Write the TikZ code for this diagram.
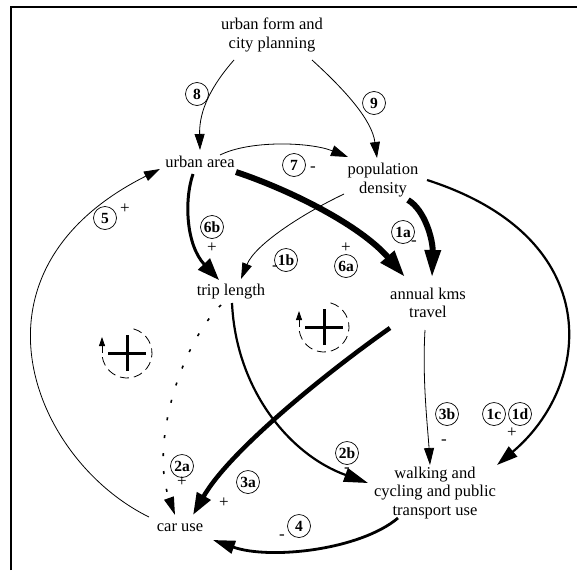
\documentclass[tikz,border=0pt]{standalone}
\usepackage{fontspec}
\setmainfont{Liberation Serif}
\usetikzlibrary{arrows.meta}
\begin{document}
\begin{tikzpicture}[x=1pt,y=-1pt,
  txt/.style={align=center,font=\fontsize{16.5}{18.5}\selectfont,inner sep=2pt},
  num/.style={circle,draw,line width=0.7pt,inner sep=0pt,minimum size=23pt,font=\fontsize{15.5}{15.5}\selectfont\bfseries},
  sgn/.style={inner sep=0pt,font=\fontsize{17}{17}\selectfont},
  head/.style 2 args={-{Triangle[length=#1,width=#2]}},
  thinlink/.style={line width=0.8pt},
  midlink/.style={line width=2.2pt},
  heavylink/.style={line width=4.5pt},
  boldlink/.style={line width=6pt},
  dotlink/.style={line width=1.6pt,dash pattern=on 3pt off 15pt},
  loopdash/.style={line width=0.8pt,dash pattern=on 9pt off 5pt},
  crossbar/.style={line width=3pt},
]
\useasboundingbox (0,0) rectangle (577,570);
\draw[line width=2.5pt] (11,570) -- (11,7) -- (577,7);

% nodes
\node[txt] (uf) at (272,35) {urban form and\\city planning};
\node[txt] (ua) at (200,162) {urban area};
\node[txt] (pd) at (383,180) {population\\density};
\node[txt] (tl) at (231,292) {trip length};
\node[txt] (ak) at (428,303) {annual kms\\travel};
\node[txt] (cu) at (180,528) {car use};
\node[txt] (wc) at (435,493) {walking and\\cycling and public\\transport use};

% connectors
\draw[thinlink,head={16pt}{10pt}] ([shift={(-38,25)}]uf.center) .. controls (212,85) and (199,110) .. ([shift={(0,-12)}]ua.center);
\draw[thinlink,head={16pt}{10pt}] ([shift={(40,25)}]uf.center) .. controls (345,90) and (372,120) .. ([shift={(-6,-22)}]pd.center);
\draw[thinlink,head={17pt}{11pt}] ([shift={(20,-7)}]ua.center) .. controls (250,140) and (310,142) .. ([shift={(-35,-23)}]pd.center);
\draw[thinlink,head={16pt}{10pt}] ([shift={(-31,-11)}]cu.center) .. controls (33,460) and (-45,272) .. ([shift={(-40,7)}]ua.center);
\draw[line width=3pt,head={22pt}{16pt}] ([shift={(-7,12)}]ua.center) .. controls (184,200) and (186,245) .. ([shift={(-12,-12)}]tl.center);
\draw[boldlink,head={27pt}{17pt}] ([shift={(36,10)}]ua.center) .. controls (290,190) and (360,225) .. ([shift={(-23,-26)}]ak.center);
\draw[boldlink,head={28pt}{15pt}] ([shift={(25,20)}]pd.center) .. controls (425,210) and (433,240) .. ([shift={(4,-25)}]ak.center);
\draw[thinlink,head={16pt}{10pt}] ([shift={(-39,14)}]pd.center) .. controls (300,215) and (255,245) .. ([shift={(10,-13)}]tl.center);
\draw[midlink,head={21pt}{13pt}] ([shift={(44,0)}]pd.center) .. controls (608,238) and (592,385) .. ([shift={(62,-28)}]wc.center);
\draw[dotlink,head={18pt}{10pt}] ([shift={(-10,13)}]tl.center) .. controls (180,345) and (150,445) .. ([shift={(-5,-13)}]cu.center);
\draw[midlink,head={24pt}{14pt}] ([shift={(1,11)}]tl.center) .. controls (236,390) and (290,455) .. ([shift={(-67,-10)}]wc.center);
\draw[heavylink,head={22pt}{15pt}] ([shift={(-38,25)}]ak.center) .. controls (330,370) and (230,450) .. ([shift={(13,-13)}]cu.center);
\draw[thinlink,head={17pt}{10pt}] ([shift={(-3,27)}]ak.center) .. controls (422,380) and (428,430) .. ([shift={(-5,-28)}]wc.center);
\draw[line width=2.8pt,head={22pt}{13pt}] ([shift={(-37,25)}]wc.center) .. controls (360,550) and (270,560) .. ([shift={(33,12)}]cu.center);

% circled labels
\node[num] (n8) at (197,94) {8};
\node[num] (n9) at (374,103) {9};
\node[num] (n7) at (294,165) {7};
\node[num] (n5) at (105,218) {5};
\node[num] (n6b) at (212,227) {6b};
\node[num] (n1a) at (403,232) {1a};
\node[num] (n1b) at (286,260) {1b};
\node[num] (n6a) at (346,266) {6a};
\node[num] (n3b) at (447,414) {3b};
\node[num] (n1c) at (494,414) {1c};
\node[num] (n1d) at (520,414) {1d};
\node[num] (n2b) at (347,453) {2b};
\node[num] (n2a) at (182,466) {2a};
\node[num] (n3a) at (248,482) {3a};
\node[num] (n4) at (299,526) {4};

% signs
\node[sgn] (s7) at (313,169) {-};
\node[sgn] (s5) at (125,209) {+};
\node[sgn] (s6b) at (212,248) {+};
\node[sgn] (s1a) at (414,243) {-};
\node[sgn] (s1b) at (275,268) {-};
\node[sgn] (s6a) at (346,248) {+};
\node[sgn] (s3b) at (444,442) {-};
\node[sgn] (s1cd) at (512,433) {+};
\node[sgn] (s2b) at (347,470) {-};
\node[sgn] (s2a) at (182,482) {+};
\node[sgn] (s3a) at (224,503) {+};
\node[sgn] (s4) at (282,537) {-};

% loop symbols
\foreach \cx/\cy in {127/353, 324/327}{
  \begin{scope}[shift={(\cx,\cy)},y=1pt]
    \draw[loopdash] (75:25) arc[start angle=75,end angle=-180,radius=25];
    \draw[line width=0.8pt,-{Triangle[length=9pt,width=6pt]}] (180:25) -- ++(0,16);
    \draw[crossbar] (-19,0) -- (19,0);
    \draw[crossbar] (0,-18) -- (0,18);
  \end{scope}
}
\end{tikzpicture}
\end{document}
